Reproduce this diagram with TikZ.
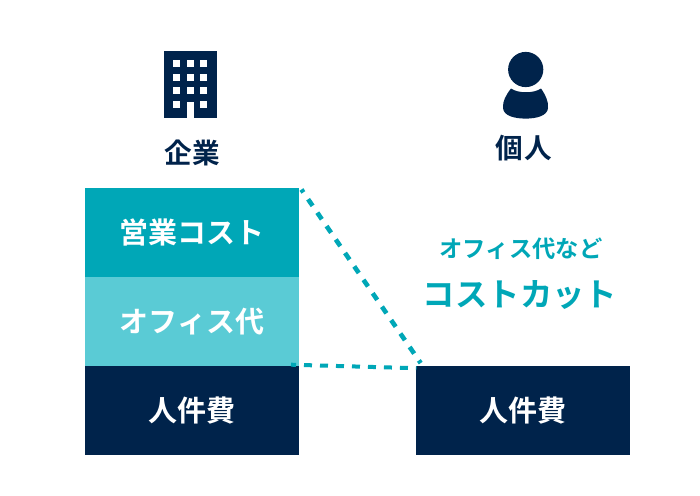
\documentclass[tikz,border=0pt]{standalone}
\usepackage{fontspec}
\setmainfont{Noto Sans CJK JP}[BoldFont={Noto Sans CJK JP Bold}]
\definecolor{navy}{HTML}{00234B}
\definecolor{teal}{HTML}{00A7B7}
\definecolor{lteal}{HTML}{5ACBD5}
\tikzset{
  bar/.style={draw=none,minimum width=214pt,inner sep=0pt,text=white,font=\bfseries\fontsize{29}{29}\selectfont},
  head/.style={inner sep=0pt,text=navy,font=\bfseries\fontsize{27.6}{28}\selectfont},
  cutup/.style={draw=teal,line width=4.6pt,dash pattern=on 8pt off 8.3pt,dash phase=4.5pt},
  cutlow/.style={draw=teal,line width=4pt,dash pattern=on 8pt off 8pt,dash phase=3pt},
  icon/.style={fill=navy,draw=none},
  win/.style={fill=white,draw=none}
}
\begin{document}
\begin{tikzpicture}[x=1pt,y=-1pt]
\useasboundingbox (0,0) rectangle (700,495);
\fill[white] (0,0) rectangle (700,495);
% building
\fill[icon] (164,51) rectangle (217,118);
\foreach \x in {173,187,200}{\foreach \y in {60,74,87,101}{
  \fill[win] (\x,\y) rectangle ++(7.2,7);}}
\fill[icon] (187,101) rectangle (194.2,108);
\fill[win] (187,101.5) rectangle (194,118);
% person
\fill[icon] (525.7,69.5) circle (17.6);
\fill[icon] (511,88.5) .. controls (518,93.5) and (534,93.5) .. (541,88.5)
  .. controls (545.5,95) and (548.5,101) .. (548,108)
  .. controls (547.5,116) and (536,118.6) .. (525.7,118.6)
  .. controls (515,118.6) and (503.5,116) .. (503,108)
  .. controls (502.5,101) and (506,95) .. (511,88.5) -- cycle;
% labels
\node[head] (kigyo) at (192.3,153) {企\kern1pt業};
\node[head] (kojin) at (523.5,148) {個\kern1pt人};
% bars
\node[bar,fill=teal,minimum height=89pt] (sales) at (192,232.5) {\raisebox{1pt}{営業コスト}};
\node[bar,fill=lteal,minimum height=89pt] (office) at (192,321.5) {\raisebox{1pt}{オフィス代}};
\node[bar,fill=navy,minimum height=89pt] (staff) at (192,410.5) {人件費};
\node[bar,fill=navy,minimum height=89pt] (staffr) at (523,410.5) {人件費};
% text
\node[inner sep=0pt,text=teal,font=\bfseries\fontsize{23.3}{24}\selectfont] (t1) at (521,249) {オフィス代など};
\node[inner sep=0pt,text=teal,font=\bfseries\fontsize{32.4}{33}\selectfont] (t2) at (520,295) {コストカット};
% connectors
\coordinate (a1) at (301.4,189.5);
\coordinate (a2) at (420.7,363.1);
\coordinate (b1) at (291,364.7);
\coordinate (b2) at (416.5,368.2);
\draw[cutup] (a1) -- (a2);
\draw[cutlow] (b1) -- (b2);
\end{tikzpicture}
\end{document}
